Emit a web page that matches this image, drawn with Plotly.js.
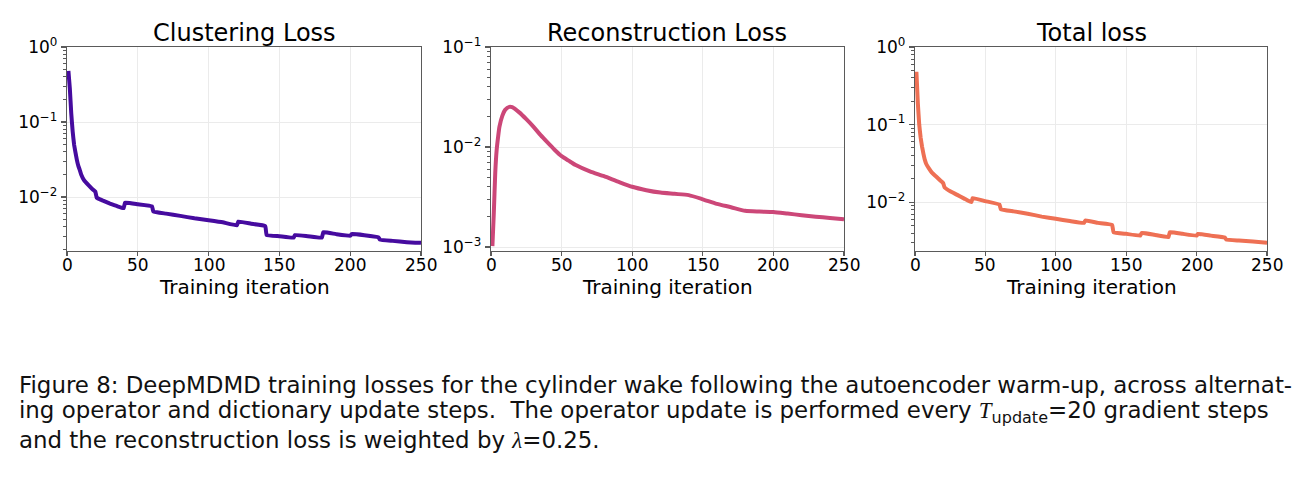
<!DOCTYPE html>
<html>
<head>
<meta charset="utf-8">
<script src="https://cdn.plot.ly/plotly-3.0.1.min.js"></script>
<style>
  html, body { margin: 0; padding: 0; background: #ffffff; }
  #fig { width: 1306px; height: 482px; }
</style>
</head>
<body>
<div id="fig"></div>
<script>
// Clustering loss per training iteration (jumps at every operator update)
const clusterIter = [1, 2, 3, 4, 5, 6, 7, 8, 9, 10, 12, 15, 18, 20, 21, 25, 30, 35, 40, 41, 50, 60, 61, 70, 80, 90, 100, 110, 120, 121, 130, 140, 141, 150, 160, 161, 170, 180, 181, 190, 200, 201, 210, 220, 221, 230, 240, 250];
const clusterLoss = [0.48, 0.28, 0.13, 0.075, 0.05, 0.039, 0.031, 0.026, 0.023, 0.020, 0.0168, 0.0145, 0.0127, 0.0118, 0.0098, 0.0090, 0.0082, 0.0076, 0.0071, 0.0084, 0.0080, 0.0075, 0.0064, 0.0060, 0.0056, 0.0052, 0.0049, 0.0046, 0.0042, 0.0047, 0.0044, 0.0041, 0.0031, 0.0030, 0.00287, 0.0031, 0.0030, 0.00287, 0.0034, 0.0032, 0.00305, 0.0032, 0.0031, 0.0029, 0.0027, 0.0026, 0.0025, 0.00245];

// Reconstruction loss per training iteration
const reconIter = [1, 2, 3, 4, 5, 6, 8, 10, 13, 15, 20, 25, 30, 35, 40, 45, 50, 55, 60, 70, 80, 90, 100, 110, 120, 130, 140, 150, 160, 170, 180, 190, 200, 210, 220, 230, 240, 250];
const reconLoss = [0.00102, 0.0022, 0.0055, 0.0093, 0.0125, 0.016, 0.0205, 0.0235, 0.0252, 0.0250, 0.0222, 0.0190, 0.0160, 0.0132, 0.0111, 0.0094, 0.0081, 0.0073, 0.0066, 0.0057, 0.0051, 0.0045, 0.0040, 0.0037, 0.0035, 0.0034, 0.0033, 0.0030, 0.0027, 0.0025, 0.0023, 0.00226, 0.00224, 0.00216, 0.00208, 0.00201, 0.00195, 0.00189];

// Total loss per training iteration
const totalIter = [1, 2, 3, 4, 5, 6, 7, 8, 10, 12, 15, 18, 20, 21, 25, 30, 35, 40, 41, 50, 60, 61, 70, 80, 90, 100, 110, 120, 121, 130, 140, 141, 150, 160, 161, 170, 180, 181, 190, 200, 201, 210, 220, 221, 230, 240, 250];
const totalLoss = [0.48, 0.19, 0.10, 0.068, 0.052, 0.042, 0.035, 0.031, 0.027, 0.024, 0.0214, 0.0190, 0.0176, 0.0155, 0.0138, 0.0124, 0.0111, 0.0100, 0.0113, 0.0103, 0.0093, 0.0081, 0.0076, 0.0071, 0.0065, 0.0061, 0.0057, 0.0054, 0.0058, 0.0054, 0.0051, 0.0041, 0.0039, 0.0037, 0.0040, 0.0038, 0.00355, 0.0041, 0.0039, 0.0037, 0.0039, 0.0037, 0.0035, 0.0033, 0.0032, 0.0031, 0.0030];

const panelTitles = ["Clustering Loss", "Reconstruction Loss", "Total loss"];
const xTickVals = [0, 50, 100, 150, 200, 250];
const xLabel = "Training iteration";

const W = 1306, H = 482;
const fx = p => p / W;
const fy = p => 1 - p / H;

const FONT = "DejaVu Sans, Liberation Sans, sans-serif";
const AXCOL = "#5a5a5a";
const GRID = "#ebebeb";

// decade labels 10^e and the 2..9 sub-decade minor positions
function logTicks(lo, hi) {
  const vals = [], text = [], minor = [];
  for (let e = lo - 1; e <= hi; e++) {
    if (e >= lo) {
      vals.push(Math.pow(10, e));
      text.push("10<sup>" + (e < 0 ? "\u2212" + (-e) : e) + "</sup>");
    }
    for (let m = 2; m <= 9; m++) minor.push(m * Math.pow(10, e));
  }
  return { vals, text, minor };
}

function xAxis(domain, anchor) {
  return {
    domain, anchor, range: [0, 250],
    tickvals: xTickVals, ticks: "outside", ticklen: 4, tickwidth: 1.2, tickcolor: AXCOL,
    showticklabels: false,
    showline: true, linecolor: AXCOL, linewidth: 1.2, mirror: true,
    showgrid: true, gridcolor: GRID, gridwidth: 1, zeroline: false
  };
}

function yAxis(domain, anchor, range, lo, hi) {
  const t = logTicks(lo, hi);
  return {
    domain, anchor, type: "log", range,
    tickvals: t.vals, ticktext: t.text, ticks: "outside", ticklen: 5, tickwidth: 1.2, tickcolor: AXCOL,
    minor: { tickmode: "array", tickvals: t.minor, ticks: "outside", ticklen: 3, tickwidth: 1, tickcolor: AXCOL, showgrid: false },
    showline: true, linecolor: AXCOL, linewidth: 1.2, mirror: true,
    showgrid: true, gridcolor: GRID, gridwidth: 1, zeroline: false,
    tickfont: { family: FONT, size: 17, color: "#000" }
  };
}

const yDom = [fy(251), fy(47)];

const traces = [
  { x: clusterIter, y: clusterLoss, xaxis: "x", yaxis: "y", mode: "lines",
    line: { color: "#460b9f", width: 4, shape: "spline", smoothing: 0.3 } },
  { x: reconIter, y: reconLoss, xaxis: "x2", yaxis: "y2", mode: "lines",
    line: { color: "#cc4778", width: 4, shape: "spline", smoothing: 0.6 } },
  { x: totalIter, y: totalLoss, xaxis: "x3", yaxis: "y3", mode: "lines",
    line: { color: "#ee7054", width: 4, shape: "spline", smoothing: 0.3 } }
];

const captionFont = { family: "DejaVu Sans, sans-serif", size: 22.9, color: "#111" };
const mathT = '<span style="font-family:Liberation Serif"><i>T</i></span>';
const mathL = '<span style="font-family:Liberation Serif"><i>\u03bb</i></span>';
const captionLines = [
  "Figure 8: DeepMDMD training losses for the cylinder wake following the autoencoder warm-up, across alternat-",
  "ing operator and dictionary update steps.  The operator update is performed every " + mathT + "<sub>update</sub>=20 gradient steps",
  "and the reconstruction loss is weighted by " + mathL + "=0.25."
];
const captionY = [385, 412, 440];

const annotations = [];
const panelCenter = [244, 667, 1091];
const xRefs = ["x", "x2", "x3"];
panelTitles.forEach((t, i) => annotations.push({
  text: t, xref: "paper", yref: "paper", x: fx(panelCenter[i]), y: fy(33),
  xanchor: "center", yanchor: "middle", showarrow: false,
  font: { family: FONT, size: 24, color: "#000" }
}));
// x tick labels placed on each panel's own x scale
xRefs.forEach(xr => xTickVals.forEach(v => annotations.push({
  text: String(v), xref: xr, yref: "paper", x: v, y: fy(265),
  xanchor: "center", yanchor: "middle", showarrow: false,
  font: { family: FONT, size: 17, color: "#000" }
})));
panelCenter.forEach(c => annotations.push({
  text: xLabel, xref: "paper", yref: "paper", x: fx(c), y: fy(287),
  xanchor: "center", yanchor: "middle", showarrow: false,
  font: { family: FONT, size: 20, color: "#000" }
}));
captionLines.forEach((t, i) => annotations.push({
  text: t, xref: "paper", yref: "paper", x: fx(17), y: fy(captionY[i]),
  xanchor: "left", yanchor: "middle", showarrow: false, font: captionFont
}));

const layout = {
  width: W, height: H,
  margin: { l: 0, r: 0, t: 0, b: 0 },
  paper_bgcolor: "#ffffff", plot_bgcolor: "#ffffff",
  showlegend: false,
  xaxis: xAxis([fx(67), fx(421)], "y"),
  yaxis: yAxis(yDom, "x", [-2.72, 0], -2, 0),
  xaxis2: xAxis([fx(491), fx(844)], "y2"),
  yaxis2: yAxis(yDom, "x2", [-3.04, -1], -3, -1),
  xaxis3: xAxis([fx(915), fx(1267)], "y3"),
  yaxis3: yAxis(yDom, "x3", [-2.63, 0], -2, 0),
  annotations
};

Plotly.newPlot("fig", traces, layout, { staticPlot: true, displayModeBar: false });
</script>
</body>
</html>
